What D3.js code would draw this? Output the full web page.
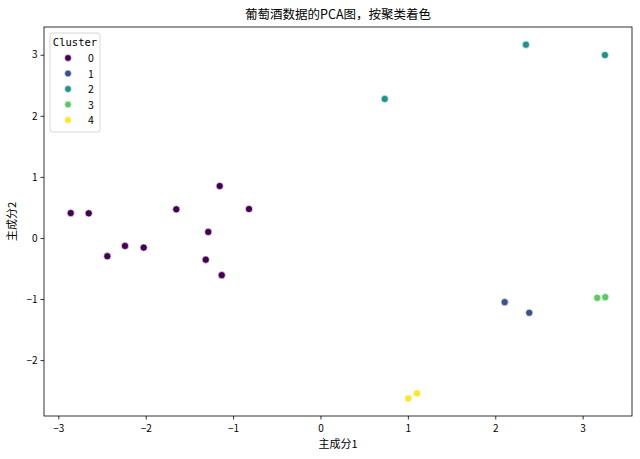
<!DOCTYPE html>
<html><head><meta charset="utf-8">
<script src="https://cdn.jsdelivr.net/npm/d3@7"></script>
<style>body{margin:0;background:#fff}svg{font-family:"Noto Sans CJK SC","DejaVu Sans",sans-serif}</style>
</head><body><svg id="c" width="640" height="459"></svg>
<script>
const clusters = [0,1,2,3,4];
const colors = ["#440154","#3b528b","#21918c","#5ec962","#fde725"];
const pc1 = [-2.858,-2.652,-2.439,-2.237,-2.023,-1.650,-1.284,-1.313,-1.153,-1.130,-0.818, 2.108,2.389, 0.735,2.351,3.255, 3.167,3.259, 1.005,1.104];
const pc2 = [0.408,0.404,-0.299,-0.131,-0.158,0.469,0.098,-0.355,0.850,-0.609,0.474, -1.051,-1.225, 2.276,3.165,2.995, -0.980,-0.969, -2.626,-2.544];
const label = [0,0,0,0,0,0,0,0,0,0,0, 1,1, 2,2,2, 3,3, 4,4];
const xTicks = [-3,-2,-1,0,1,2,3];
const yTicks = [-2,-1,0,1,2,3];

const svg = d3.select("#c");
const L=44,R=632,T=27,B=416;
const pad=(a)=>{const e=d3.extent(a),m=(e[1]-e[0])*0.05;return [e[0]-m,e[1]+m];};
const x = d3.scaleLinear().domain(pad(pc1)).range([L,R]);
const y = d3.scaleLinear().domain(pad(pc2)).range([B,T]);

const xa = svg.append("g").attr("transform",`translate(0,${B})`).call(d3.axisBottom(x).tickValues(xTicks).tickSize(3.5).tickSizeOuter(0).tickFormat(d=>d<0?"\u2212"+(-d):d));
const ya = svg.append("g").attr("transform",`translate(${L},0)`).call(d3.axisLeft(y).tickValues(yTicks).tickSize(3.5).tickSizeOuter(0).tickFormat(d=>d<0?"\u2212"+(-d):d));
[xa,ya].forEach(a=>{a.selectAll("text").attr("font-size",10).attr("fill","#000").attr("font-family","Noto Sans CJK SC");a.select(".domain").remove();a.selectAll("line").attr("stroke","#000").attr("stroke-width",0.8);});
xa.selectAll("text").attr("dy","0.9em");

svg.append("g").selectAll("circle").data(pc1.map((v,i)=>i)).join("circle")
 .attr("cx",i=>x(pc1[i])).attr("cy",i=>y(pc2[i])).attr("r",3.6)
 .attr("fill",i=>colors[label[i]]).attr("stroke","#fff").attr("stroke-width",0.6);

svg.append("rect").attr("x",L).attr("y",T).attr("width",R-L).attr("height",B-T).attr("fill","none").attr("stroke","#000").attr("stroke-width",0.8);

svg.append("text").attr("x",(L+R)/2).attr("y",19).attr("text-anchor","middle").attr("font-size",12.5).text("葡萄酒数据的PCA图，按聚类着色");
svg.append("text").attr("x",(L+R)/2).attr("y",448).attr("text-anchor","middle").attr("font-size",11).text("主成分1");
svg.append("text").attr("transform",`translate(16,${(T+B)/2}) rotate(-90)`).attr("text-anchor","middle").attr("font-size",11).text("主成分2");

const lg = svg.append("g");
lg.append("rect").attr("x",50).attr("y",33).attr("width",50).attr("height",99).attr("rx",2.5).attr("fill","#fff").attr("fill-opacity",0.8).attr("stroke","#ccc").attr("stroke-width",0.8);
lg.append("text").attr("x",75).attr("y",46).attr("text-anchor","middle").attr("font-size",10.5).attr("font-family","DejaVu Sans Mono, monospace").text("Cluster");
clusters.forEach((c,i)=>{
  const yy=58+i*15.5;
  lg.append("circle").attr("cx",68).attr("cy",yy).attr("r",3.4).attr("fill",colors[i]).attr("stroke","#fff").attr("stroke-width",0.6);
  lg.append("text").attr("x",88).attr("y",yy+4).attr("font-size",10.5).text(c);
});
</script></body></html>
